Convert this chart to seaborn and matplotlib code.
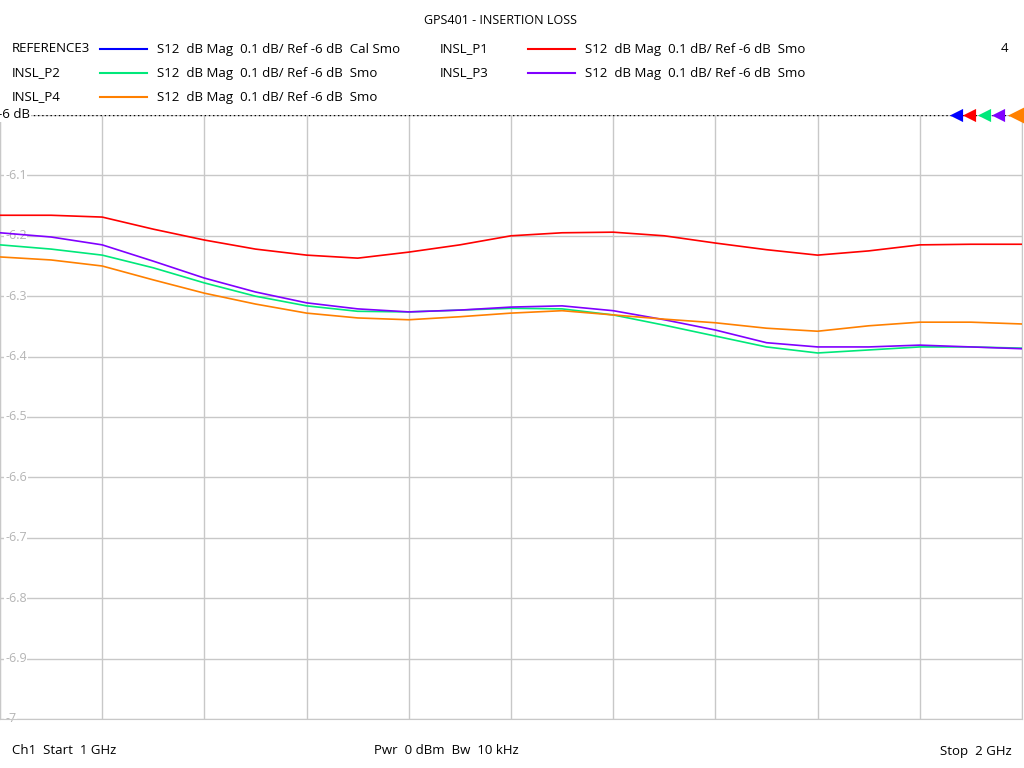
import numpy as np
import pandas as pd
import matplotlib
matplotlib.use("Agg")
import matplotlib.pyplot as plt
import seaborn as sns

freq_ghz = [1.0, 1.05, 1.1, 1.15, 1.2, 1.25, 1.3, 1.35, 1.4, 1.45, 1.5,
            1.55, 1.6, 1.65, 1.7, 1.75, 1.8, 1.85, 1.9, 1.95, 2.0]
insl_p1 = [-6.166, -6.166, -6.169, -6.189, -6.207, -6.222, -6.232, -6.237, -6.227, -6.215, -6.200,
           -6.195, -6.194, -6.200, -6.212, -6.223, -6.232, -6.225, -6.215, -6.214, -6.214]
insl_p2 = [-6.215, -6.222, -6.232, -6.253, -6.278, -6.300, -6.316, -6.325, -6.326, -6.323, -6.320,
           -6.321, -6.331, -6.348, -6.366, -6.384, -6.394, -6.389, -6.384, -6.384, -6.386]
insl_p3 = [-6.195, -6.202, -6.215, -6.242, -6.270, -6.293, -6.311, -6.321, -6.326, -6.323, -6.318,
           -6.316, -6.324, -6.339, -6.356, -6.377, -6.384, -6.384, -6.381, -6.384, -6.387]
insl_p4 = [-6.235, -6.240, -6.250, -6.273, -6.295, -6.313, -6.328, -6.336, -6.339, -6.334, -6.328,
           -6.324, -6.331, -6.338, -6.344, -6.353, -6.358, -6.349, -6.343, -6.343, -6.346]
y_ticks = [-6.1, -6.2, -6.3, -6.4, -6.5, -6.6, -6.7, -6.8, -6.9, -7]

series = {"INSL_P1": (insl_p1, "#ff0000"), "INSL_P2": (insl_p2, "#00e87a"),
          "INSL_P3": (insl_p3, "#8000ff"), "INSL_P4": (insl_p4, "#ff8000")}
rows = []
for name, (vals, _) in series.items():
    for f, v in zip(freq_ghz, vals):
        rows.append({"f": f, "v": v, "trace": name})
df = pd.DataFrame(rows)

plt.rcParams["font.family"] = "Open Sans"
fig = plt.figure(figsize=(10.24, 7.68), dpi=100)
ax = fig.add_axes([0 / 1024, 1 - 719 / 768, 1022 / 1024, (719 - 115) / 768])
sns.lineplot(data=df, x="f", y="v", hue="trace", palette={k: c for k, (_, c) in series.items()},
             ax=ax, legend=False, linewidth=1.2, zorder=3)
ax.set_xlim(1.0, 2.0)
ax.set_ylim(-7, -6)
ax.set_xticks(np.linspace(1, 2, 11))
ax.set_yticks(np.linspace(-7, -6, 11))
ax.grid(True, color="#c8c8c8", linewidth=1)
ax.tick_params(left=False, bottom=False, labelleft=False, labelbottom=False)
ax.spines["top"].set_visible(False)
for s in ["left", "right", "bottom"]:
    ax.spines[s].set_color("#c8c8c8")
ax.set_xlabel(""); ax.set_ylabel("")
ax.axhline(-6, color="black", linestyle=(0, (1, 2)), linewidth=1)
for t in y_ticks:
    ax.text(0.005, t, f"{t:g}", color="#b4b4b4", fontsize=9, va="center", ha="left",
            transform=ax.get_yaxis_transform(),
            bbox=dict(facecolor="white", edgecolor="none", pad=0.5), zorder=2)
ax.text(-0.002, 1.0, "-6 dB", fontsize=9.5, va="center", ha="left",
        transform=ax.transAxes, clip_on=False,
        bbox=dict(facecolor="white", edgecolor="none", pad=0.5))
mk_colors = ["#0000ff", "#ff0000", "#00e87a", "#8000ff", "#ff8000"]
mk_x = [0.935, 0.948, 0.963, 0.977, 0.995]
for i, (x, c) in enumerate(zip(mk_x, mk_colors)):
    ax.scatter([x], [1.0], marker="<", s=90 if i < 4 else 180, color=c,
               transform=ax.transAxes, clip_on=False, zorder=5, linewidths=0)

fs = 9.5
fig.text(500 / 1024, 1 - 20 / 768, "GPS401 - INSERTION LOSS", ha="center", va="center", fontsize=9)
leg = [("REFERENCE3", "#0000ff", "S12  dB Mag  0.1 dB/ Ref -6 dB  Cal Smo", 12, 49),
       ("INSL_P1", "#ff0000", "S12  dB Mag  0.1 dB/ Ref -6 dB  Smo", 440, 49),
       ("INSL_P2", "#00e87a", "S12  dB Mag  0.1 dB/ Ref -6 dB  Smo", 12, 73),
       ("INSL_P3", "#8000ff", "S12  dB Mag  0.1 dB/ Ref -6 dB  Smo", 440, 73),
       ("INSL_P4", "#ff8000", "S12  dB Mag  0.1 dB/ Ref -6 dB  Smo", 12, 97)]
for name, c, desc, x, y in leg:
    fig.text(x / 1024, 1 - y / 768, name, fontsize=fs, va="center")
    fig.add_artist(plt.Line2D([(x + 88) / 1024, (x + 135) / 1024], [1 - y / 768] * 2, color=c, linewidth=1.5))
    fig.text((x + 145) / 1024, 1 - y / 768, desc, fontsize=fs, va="center")
fig.text(1008 / 1024, 1 - 49 / 768, "4", fontsize=fs, va="center", ha="right")
fig.text(12 / 1024, 1 - 751 / 768, "Ch1  Start  1 GHz", fontsize=fs, va="center")
fig.text(446 / 1024, 1 - 751 / 768, "Pwr  0 dBm  Bw  10 kHz", fontsize=fs, va="center", ha="center")
fig.text(1012 / 1024, 1 - 751 / 768, "Stop  2 GHz", fontsize=fs, va="center", ha="right")
fig.savefig("out.png", dpi=100)
